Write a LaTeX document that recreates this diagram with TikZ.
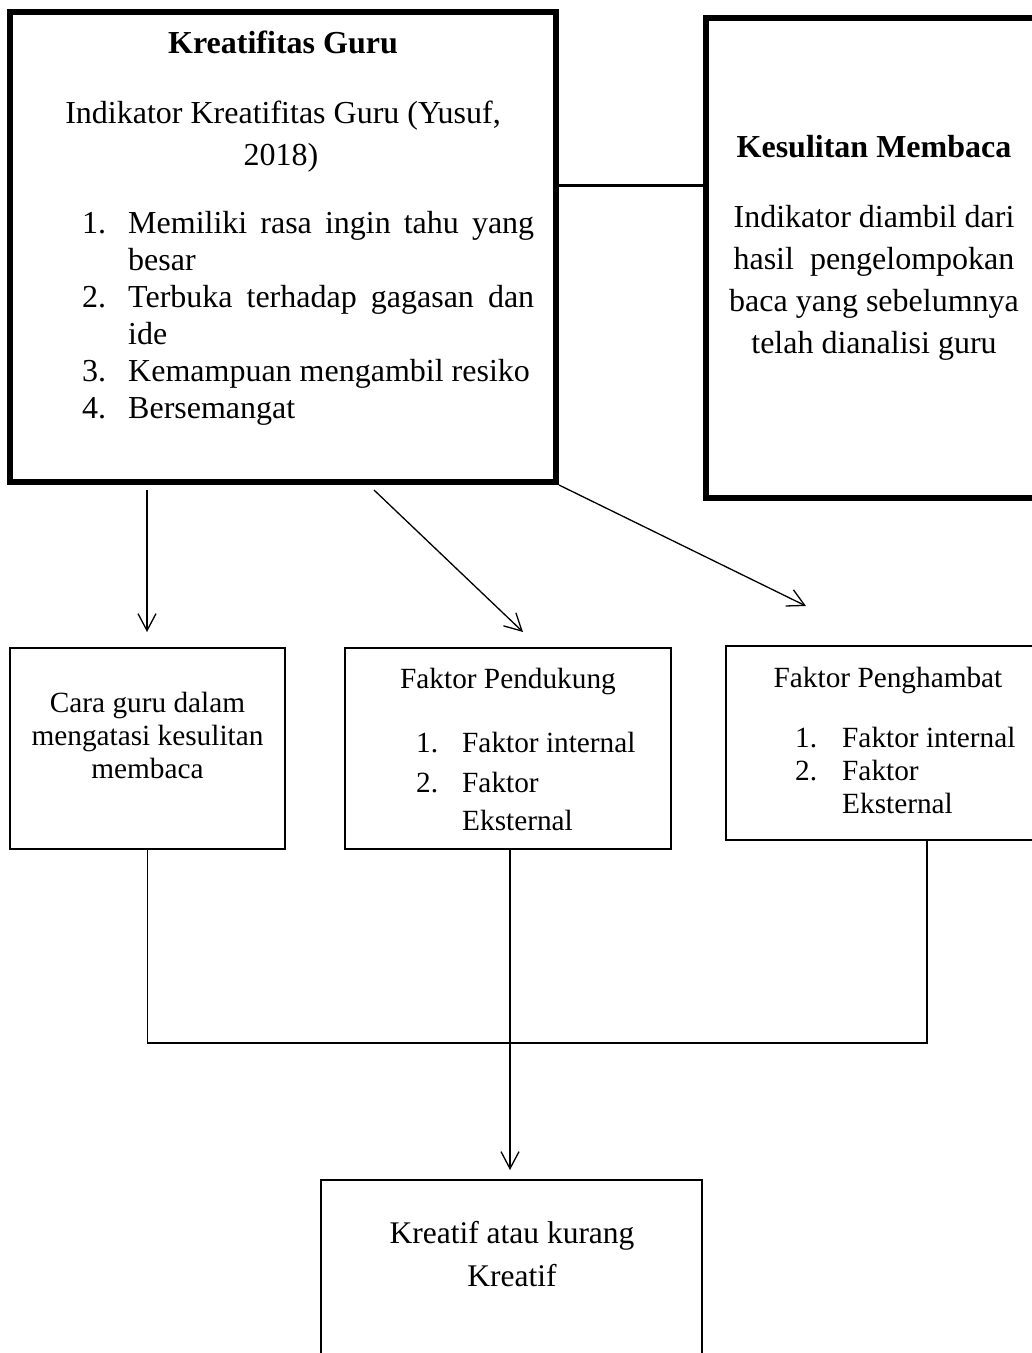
\documentclass[tikz,border=0pt]{standalone}
\usepackage{fontspec}
\setmainfont{Liberation Serif}
\usetikzlibrary{arrows.meta,calc}
\tikzset{
  thickbox/.style={draw, line width=6pt, inner sep=0pt},
  thinbox/.style={draw, line width=2.6pt, inner sep=0pt},
  conn/.style={line width=1.3pt},
  arr/.style={conn, -{Straight Barb[length=17pt,width=18pt,line width=1.3pt]}},
  big/.style={font=\fontsize{32}{37}\selectfont, inner sep=0pt, anchor=base},
  bigw/.style={big, anchor=base west},
  small/.style={font=\fontsize{29.3}{34}\selectfont, inner sep=0pt, anchor=base},
  smallw/.style={small, anchor=base west},
  mid/.style={font=\fontsize{31.5}{36}\selectfont, inner sep=0pt, anchor=base},
}
\begin{document}
\begin{tikzpicture}[x=1pt,y=-1pt]
\clip (0,0) rectangle (1032,1353);
\fill[white] (0,0) rectangle (1032,1353);

% main boxes
\node[thickbox, minimum width=546pt, minimum height=470pt] (A) at (283,247) {};
\node[thickbox, minimum width=336pt, minimum height=480pt] (B) at (874,258) {};
\node[thinbox, minimum width=275pt, minimum height=201pt] (C) at (147.5,748.5) {};
\node[thinbox, minimum width=326pt, minimum height=201pt] (D) at (508,748.5) {};
\node[thinbox, minimum width=320pt, minimum height=194pt] (E) at (886,743) {};
\node[thinbox, minimum width=381pt, minimum height=220pt] (F) at (511.5,1290) {};

% box A text
\node[big] (a0) at (283,53) {\bfseries Kreatifitas Guru};
\node[big] (a1) at (283,123) {Indikator Kreatifitas Guru (Yusuf,};
\node[big] (a2) at (281,165) {2018)};
\node[bigw] (an1) at (82,233) {1.};
\node[bigw] (at1) at (128,233) {\makebox[406pt][s]{Memiliki rasa ingin tahu yang}};
\node[bigw] (at1b) at (128,270) {besar};
\node[bigw] (an2) at (82,307) {2.};
\node[bigw] (at2) at (128,307) {\makebox[406pt][s]{Terbuka terhadap gagasan dan}};
\node[bigw] (at2b) at (128,344) {ide};
\node[bigw] (an3) at (82,381) {3.};
\node[bigw] (at3) at (128,381) {Kemampuan mengambil resiko};
\node[bigw] (an4) at (82,418) {4.};
\node[bigw] (at4) at (128,418) {Bersemangat};

% box B text
\node[big] (b0) at (874,157) {\bfseries Kesulitan Membaca};
\node[big] (b1) at (874,227) {Indikator diambil dari};
\node[big] (b2) at (874,269) {hasil\ \ pengelompokan};
\node[big] (b3) at (874,311) {baca yang sebelumnya};
\node[big] (b4) at (874,353) {telah dianalisi guru};

% box C text
\node[small] (c1) at (147.5,712) {Cara guru dalam};
\node[small] (c2) at (147.5,745) {mengatasi kesulitan};
\node[small] (c3) at (147.5,778) {membaca};

% box D text
\node[small] (d0) at (508,688) {Faktor Pendukung};
\node[smallw] (dn1) at (416,752) {1.};
\node[smallw] (dt1) at (462,752) {Faktor internal};
\node[smallw] (dn2) at (416,792) {2.};
\node[smallw] (dt2) at (462,792) {Faktor};
\node[smallw] (dt2b) at (462,830) {Eksternal};

% box E text
\node[small] (e0) at (888,687) {Faktor Penghambat};
\node[smallw] (en1) at (795,747) {1.};
\node[smallw] (et1) at (842,747) {Faktor internal};
\node[smallw] (en2) at (795,780) {2.};
\node[smallw] (et2) at (842,780) {Faktor};
\node[smallw] (et2b) at (842,813) {Eksternal};

% box F text
\node[mid] (f1) at (512,1243) {Kreatif atau kurang};
\node[mid] (f2) at (512,1286) {Kreatif};

% connector A -- B
\coordinate (ab) at (600,185);
\draw[line width=3pt] (A.east |- ab) -- (B.west |- ab);

% arrows from A
\coordinate (s1) at (147,490);
\coordinate (t1) at (147,632);
\coordinate (s2) at (374,490);
\coordinate (t2) at (523,632);
\coordinate (t3) at (806,606);
\draw[arr] (s1) -- (t1);
\draw[arr] (s2) -- (t2);
\draw[arr] (A.south east) -- (t3);

% lower connectors
\coordinate (eh) at (927,1043);
\draw[conn] (eh |- E.south) -- (eh) -- (C.south |- eh) -- (C.south);
\coordinate (ftip) at (510,1170);
\draw[arr] (ftip |- D.south) -- (ftip);
\end{tikzpicture}
\end{document}
